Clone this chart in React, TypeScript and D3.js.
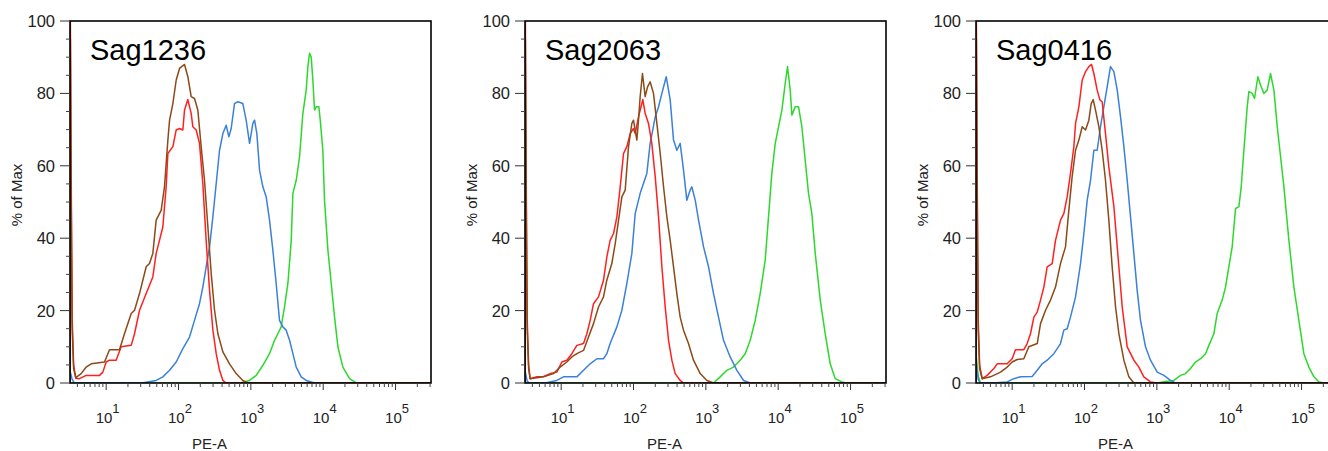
import React from "react";
import * as d3 from "d3";

type Pt = [number, number]; // [log10(PE-A), % of Max]

const titles = ["Sag1236", "Sag2063", "Sag0416"];
const yTicks = [0, 20, 40, 60, 80, 100];
const xDecades = [1, 2, 3, 4, 5];

// ---------- Panel 1: Sag1236 ----------
const p1Red: Pt[] = [[0.5,0],[0.505,100],[0.515,62],[0.53,18],[0.55,5],[0.58,1.3],[0.631,1.2],[0.724,2.1],[0.908,2.1],[0.954,3.0],[1.0,5.8],[1.046,6.3],[1.138,6.3],[1.207,10.0],[1.346,10.4],[1.392,13.6],[1.461,20.1],[1.553,24.7],[1.645,29.3],[1.691,35.8],[1.737,39.4],[1.783,43.1],[1.829,54.2],[1.853,63.4],[1.922,65.3],[1.968,69.9],[2.014,70.3],[2.06,69.9],[2.083,75.4],[2.129,78.3],[2.175,74.5],[2.198,70.8],[2.244,69.9],[2.29,66.2],[2.336,55.1],[2.382,39.4],[2.429,25.6],[2.475,14.6],[2.521,8.1],[2.567,3.5],[2.613,0.7],[2.659,0],[5.49,0]];
const p1Brown: Pt[] = [[0.5,0],[0.505,95],[0.515,55],[0.53,15],[0.55,4],[0.58,1.5],[0.654,2.6],[0.724,4.4],[0.793,5.3],[0.977,5.8],[1.046,9.2],[1.184,9.2],[1.253,13.6],[1.346,19.2],[1.392,20.1],[1.461,24.7],[1.553,32.1],[1.599,33.0],[1.645,35.8],[1.691,45.0],[1.76,47.7],[1.806,54.2],[1.853,67.1],[1.876,72.6],[1.922,77.2],[1.968,83.7],[2.014,86.9],[2.083,88.0],[2.129,84.6],[2.175,79.1],[2.221,78.6],[2.267,75.4],[2.313,65.3],[2.359,56.0],[2.406,43.1],[2.452,30.2],[2.498,20.1],[2.544,13.6],[2.613,8.6],[2.705,5.3],[2.797,2.6],[2.889,0.7],[2.959,0],[5.49,0]];
const p1Blue: Pt[] = [[0.5,0],[0.505,3],[0.53,1],[0.56,0],[1.49,0],[1.691,0.7],[1.783,1.7],[1.876,3.5],[1.968,5.8],[2.06,9.5],[2.152,12.7],[2.221,17.3],[2.29,21.9],[2.336,26.5],[2.382,32.1],[2.429,37.6],[2.475,45.9],[2.521,55.1],[2.567,64.3],[2.613,68.9],[2.659,71.2],[2.696,68.0],[2.728,70.3],[2.774,77.2],[2.82,77.7],[2.889,77.2],[2.935,72.6],[2.982,66.2],[3.028,71.7],[3.051,72.6],[3.083,68.9],[3.12,58.8],[3.166,54.2],[3.212,51.4],[3.258,45.0],[3.304,36.7],[3.35,27.5],[3.396,17.3],[3.442,15.5],[3.488,14.6],[3.535,11.8],[3.581,8.1],[3.627,4.4],[3.696,1.7],[3.765,0.7],[3.88,0],[5.49,0]];
const p1Green: Pt[] = [[0.5,0],[2.85,0],[2.982,0.7],[3.074,2.1],[3.166,4.9],[3.258,8.1],[3.327,11.8],[3.373,13.6],[3.419,15.5],[3.465,21.0],[3.512,27.5],[3.558,39.4],[3.581,52.4],[3.627,56.0],[3.673,62.5],[3.719,74.5],[3.765,80.9],[3.788,87.4],[3.811,91.1],[3.834,90.1],[3.857,83.7],[3.88,75.4],[3.903,76.3],[3.94,76.3],[3.959,72.6],[3.995,64.3],[4.018,50.5],[4.065,36.7],[4.111,27.5],[4.157,18.2],[4.203,10.0],[4.272,4.4],[4.364,1.2],[4.456,0],[5.49,0]];

// ---------- Panel 2: Sag2063 ----------
const p2Red: Pt[] = [[0.5,0],[0.505,100],[0.515,62],[0.53,18],[0.55,5],[0.571,1.2],[0.664,1.7],[0.756,1.8],[0.848,2.6],[0.94,3.0],[1.009,5.8],[1.078,6.3],[1.147,8.1],[1.217,10.4],[1.309,10.9],[1.355,13.6],[1.401,17.3],[1.447,21.9],[1.516,23.8],[1.585,28.4],[1.631,34.8],[1.677,39.4],[1.724,41.3],[1.77,45.9],[1.816,54.2],[1.862,63.4],[1.908,65.3],[1.954,68.9],[2.0,70.3],[2.023,68.9],[2.069,73.5],[2.129,78.3],[2.161,74.5],[2.207,71.7],[2.253,66.2],[2.3,57.0],[2.346,45.9],[2.392,32.1],[2.438,21.0],[2.484,11.8],[2.53,6.3],[2.576,2.6],[2.645,0.7],[2.691,0],[5.49,0]];
const p2Brown: Pt[] = [[0.5,0],[0.505,95],[0.515,55],[0.53,15],[0.55,4],[0.571,1.2],[0.756,1.7],[0.894,2.6],[0.986,4.4],[1.078,5.8],[1.147,7.2],[1.217,8.1],[1.309,9.0],[1.378,12.7],[1.447,16.4],[1.516,21.0],[1.585,23.8],[1.631,28.4],[1.7,33.0],[1.747,38.5],[1.793,45.0],[1.839,51.4],[1.885,53.3],[1.931,65.3],[1.977,71.7],[2.0,72.6],[2.046,67.1],[2.069,72.6],[2.092,79.1],[2.124,85.5],[2.161,79.1],[2.194,81.8],[2.23,83.2],[2.276,80.0],[2.323,71.7],[2.369,63.4],[2.415,54.2],[2.461,45.9],[2.507,39.4],[2.553,32.1],[2.599,24.7],[2.645,18.2],[2.691,14.6],[2.76,10.9],[2.829,6.3],[2.922,2.6],[3.014,0.7],[3.106,0],[5.49,0]];
const p2Blue: Pt[] = [[0.5,0],[0.505,3],[0.53,0.5],[0.56,0],[0.779,0],[0.94,0.7],[1.032,1.7],[1.217,1.7],[1.309,3.5],[1.401,5.3],[1.493,6.7],[1.585,6.7],[1.631,8.1],[1.677,10.9],[1.77,15.5],[1.839,20.1],[1.908,27.5],[1.977,35.8],[2.023,46.8],[2.092,52.4],[2.184,57.9],[2.23,66.2],[2.3,73.5],[2.346,76.3],[2.392,80.0],[2.452,84.6],[2.507,78.2],[2.553,67.1],[2.599,64.3],[2.645,66.2],[2.691,58.8],[2.737,50.5],[2.783,53.3],[2.806,54.2],[2.853,50.5],[2.899,45.0],[2.968,37.6],[3.037,32.1],[3.106,24.7],[3.175,18.2],[3.244,11.8],[3.336,7.2],[3.429,3.5],[3.521,0.7],[3.613,0],[5.49,0]];
const p2Green: Pt[] = [[0.5,0],[3.106,0],[3.198,1.7],[3.29,3.5],[3.382,4.4],[3.475,6.3],[3.544,8.1],[3.613,11.8],[3.682,17.3],[3.751,24.7],[3.82,33.9],[3.866,45.9],[3.912,57.9],[3.959,66.2],[4.005,70.8],[4.051,75.4],[4.097,82.8],[4.129,87.4],[4.166,80.9],[4.189,74.0],[4.235,76.3],[4.281,76.3],[4.327,70.8],[4.373,61.6],[4.419,52.4],[4.465,46.8],[4.512,35.8],[4.581,22.9],[4.65,13.6],[4.719,5.3],[4.788,1.2],[4.88,0.3],[4.949,0],[5.49,0]];

// ---------- Panel 3: Sag0416 ----------
const p3Red: Pt[] = [[0.5,0],[0.505,100],[0.515,62],[0.53,18],[0.55,5],[0.585,1.2],[0.654,2.1],[0.747,4.0],[0.793,5.3],[0.931,5.3],[1.0,6.7],[1.046,9.2],[1.161,9.2],[1.207,10.9],[1.253,13.6],[1.3,18.2],[1.346,19.6],[1.392,22.9],[1.438,26.5],[1.484,32.1],[1.553,33.0],[1.599,39.4],[1.668,45.0],[1.714,46.8],[1.76,51.4],[1.806,57.9],[1.853,65.3],[1.876,71.7],[1.922,76.3],[1.968,83.7],[2.014,86.0],[2.06,87.4],[2.097,88.0],[2.129,85.5],[2.175,80.9],[2.212,78.2],[2.244,77.7],[2.29,68.9],[2.336,59.7],[2.406,48.7],[2.475,32.1],[2.521,21.0],[2.59,10.0],[2.682,6.3],[2.751,4.4],[2.82,1.7],[2.912,0.3],[3.005,0],[5.49,0]];
const p3Brown: Pt[] = [[0.5,0],[0.505,95],[0.515,55],[0.53,15],[0.55,4],[0.585,1.2],[0.7,1.7],[0.839,3.0],[0.931,4.4],[1.0,5.8],[1.069,6.5],[1.161,6.7],[1.23,10.0],[1.346,10.9],[1.392,16.4],[1.461,20.1],[1.53,22.9],[1.599,26.5],[1.668,33.0],[1.737,37.6],[1.783,47.7],[1.829,57.0],[1.876,64.3],[1.922,67.1],[1.968,70.8],[2.014,69.9],[2.06,72.6],[2.092,77.2],[2.12,78.3],[2.152,75.4],[2.198,70.8],[2.244,64.3],[2.29,56.0],[2.336,45.0],[2.382,32.1],[2.429,21.0],[2.475,13.6],[2.544,6.3],[2.613,1.7],[2.682,0],[5.49,0]];
const p3Blue: Pt[] = [[0.5,0],[0.505,5],[0.53,1],[0.56,0],[0.724,0],[0.931,0.3],[1.023,1.2],[1.115,1.7],[1.276,1.8],[1.346,3.5],[1.415,5.3],[1.484,6.3],[1.576,8.1],[1.668,10.9],[1.714,14.6],[1.76,15.0],[1.806,18.2],[1.876,23.8],[1.945,33.0],[1.991,41.3],[2.037,50.5],[2.083,56.0],[2.129,64.3],[2.175,64.3],[2.221,70.8],[2.267,76.3],[2.313,81.8],[2.359,87.4],[2.406,86.0],[2.452,80.9],[2.498,73.5],[2.544,65.3],[2.59,56.0],[2.636,45.9],[2.682,35.8],[2.728,25.6],[2.774,17.3],[2.843,10.0],[2.912,6.3],[3.005,3.0],[3.097,2.1],[3.189,0.7],[3.258,0],[5.49,0]];
const p3Green: Pt[] = [[0.5,0],[0.505,7],[0.53,2],[0.56,0],[3.005,0],[3.143,0.5],[3.235,0.7],[3.327,2.1],[3.396,2.6],[3.465,4.0],[3.535,5.8],[3.604,6.7],[3.673,8.1],[3.719,10.4],[3.788,13.6],[3.834,19.2],[3.903,22.9],[3.949,26.5],[3.995,32.1],[4.041,37.6],[4.065,43.1],[4.088,48.2],[4.134,48.7],[4.166,54.2],[4.203,64.3],[4.249,76.3],[4.272,80.5],[4.318,80.0],[4.35,78.6],[4.396,84.6],[4.433,82.3],[4.479,80.0],[4.525,80.9],[4.571,85.5],[4.618,80.9],[4.664,70.8],[4.71,62.5],[4.756,54.2],[4.825,39.4],[4.894,26.5],[4.963,17.3],[5.032,8.1],[5.101,4.4],[5.171,1.7],[5.24,0.3],[5.309,0],[5.49,0]];

const COLORS = { green: "#2cd82c", blue: "#3b80d9", red: "#ff2020", brown: "#8b4a18" };
const FONT = "'Liberation Sans', Arial, Helvetica, sans-serif";

const panels = [
  { title: titles[0], left: 70, series: [p1Green, p1Blue, p1Red, p1Brown] },
  { title: titles[1], left: 525, series: [p2Green, p2Blue, p2Red, p2Brown] },
  { title: titles[2], left: 976, series: [p3Green, p3Blue, p3Red, p3Brown] },
];
const seriesColors = [COLORS.green, COLORS.blue, COLORS.red, COLORS.brown];

const W = 361;
const H = 362;
const TOP = 21;

export default function App() {
  const x = d3.scaleLog().domain([Math.pow(10, 0.5), Math.pow(10, 5.49)]).range([0, W]);
  const y = d3.scaleLinear().domain([0, 100]).range([H, 0]);
  const line = d3
    .line<Pt>()
    .x((d) => x(Math.pow(10, d[0])))
    .y((d) => y(d[1]));

  const yMinor = d3.range(0, 101, 5).filter((v) => v % 20 !== 0);
  const [lo, hi] = x.domain();
  const xMinor: number[] = [];
  for (let dec = 0; dec <= 5; dec++) {
    for (let m = 2; m <= 9; m++) {
      const v = m * Math.pow(10, dec);
      if (v >= lo && v <= hi) xMinor.push(v);
    }
  }

  return (
    <svg
      width={1328}
      height={451}
      style={{ position: "absolute", left: 0, top: 0, background: "#fff" }}
      fontFamily={FONT}
    >
      <rect x={0} y={0} width={1328} height={451} fill="#fff" />
      {panels.map((p, pi) => (
        <g key={pi} transform={`translate(${p.left},${TOP})`}>
          <defs>
            <clipPath id={`clip${pi}`}>
              <rect x={0} y={0} width={W} height={H} />
            </clipPath>
          </defs>
          <g clipPath={`url(#clip${pi})`}>
            {p.series.map((s, si) => (
              <path
                key={si}
                d={line(s) || ""}
                fill="none"
                stroke={seriesColors[si]}
                strokeWidth={1.5}
                strokeLinejoin="round"
              />
            ))}
          </g>
          <rect x={0} y={0} width={W} height={H} fill="none" stroke="#000" strokeWidth={1.6} />
          {/* y ticks */}
          {yTicks.map((t) => (
            <g key={`yt${t}`}>
              <line x1={-10} x2={0} y1={y(t)} y2={y(t)} stroke="#333" strokeWidth={1} />
              <text x={-15} y={y(t)} dy="0.36em" textAnchor="end" fontSize={16.5} fill="#222">
                {t}
              </text>
            </g>
          ))}
          {yMinor.map((t) => (
            <line key={`ym${t}`} x1={-4} x2={0} y1={y(t)} y2={y(t)} stroke="#444" strokeWidth={1} />
          ))}
          {/* x ticks */}
          {xMinor.map((v) => (
            <line key={`xm${v}`} x1={x(v)} x2={x(v)} y1={H} y2={H + 4} stroke="#444" strokeWidth={1} />
          ))}
          {xDecades.map((d) => {
            const xv = x(Math.pow(10, d));
            return (
              <g key={`xd${d}`}>
                <line x1={xv} x2={xv} y1={H} y2={H + 7} stroke="#333" strokeWidth={1} />
                <text x={xv - 10.5} y={402} fontSize={15} fill="#222">
                  10
                  <tspan fontSize={13} dy={-10}>
                    {d}
                  </tspan>
                </text>
              </g>
            );
          })}
          <text x={139.5} y={428} textAnchor="middle" fontSize={15} fill="#222">
            PE-A
          </text>
          <text
            transform={`translate(-53,174) rotate(-90)`}
            textAnchor="middle"
            dy="0.35em"
            fontSize={15}
            fill="#222"
          >
            % of Max
          </text>
          <text x={20} y={39} fontSize={29} fill="#000">
            {p.title}
          </text>
        </g>
      ))}
    </svg>
  );
}
